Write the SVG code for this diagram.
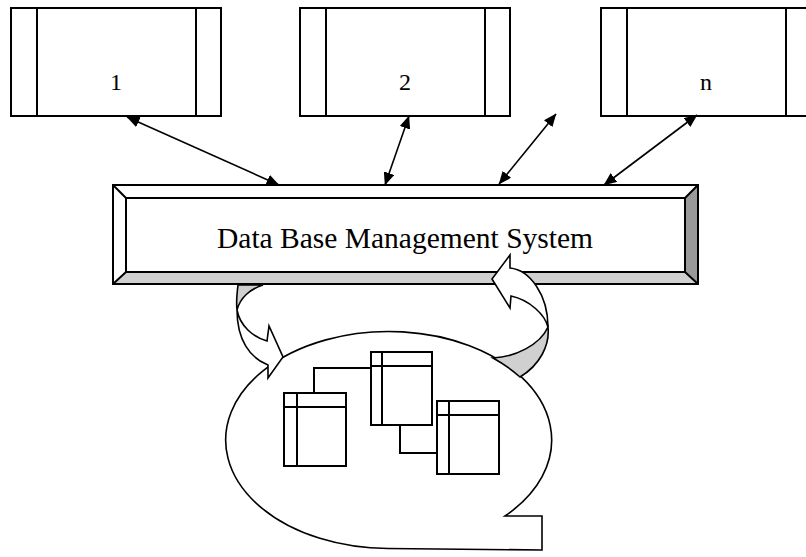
<svg xmlns="http://www.w3.org/2000/svg" width="806" height="557" viewBox="0 0 806 557">
<style>
.box{fill:#fff;stroke:#000;stroke-width:2}
.ln{fill:none;stroke:#000;stroke-width:2}
.lbl{font-family:"Liberation Serif","Times New Roman",serif;fill:#000;text-anchor:middle}
.conn{fill:none;stroke:#000;stroke-width:1.6}
.blk{stroke:#000;stroke-width:1.6;stroke-linejoin:miter}
</style>
<defs>
<marker id="ah" viewBox="0 0 13 11" refX="12.5" refY="5.5" markerWidth="13" markerHeight="11" markerUnits="userSpaceOnUse" orient="auto-start-reverse">
<path d="M0,0 L13,5.5 L0,11 Z" fill="#000"/>
</marker>
</defs>
<rect width="806" height="557" fill="#fff"/>

<g id="user1">
<rect class="box" x="11" y="8" width="210" height="108"/>
<line class="ln" x1="37" y1="8" x2="37" y2="116"/>
<line class="ln" x1="196" y1="8" x2="196" y2="116"/>
<text class="lbl" x="116" y="90" font-size="24">1</text>
</g>
<g id="user2">
<rect class="box" x="300" y="8" width="210" height="108"/>
<line class="ln" x1="326" y1="8" x2="326" y2="116"/>
<line class="ln" x1="485" y1="8" x2="485" y2="116"/>
<text class="lbl" x="405" y="90" font-size="24">2</text>
</g>
<g id="usern">
<rect class="box" x="601" y="8" width="210" height="108"/>
<line class="ln" x1="627" y1="8" x2="627" y2="116"/>
<line class="ln" x1="786" y1="8" x2="786" y2="116"/>
<text class="lbl" x="706" y="90" font-size="24">n</text>
</g>

<g id="dbms">
<polygon points="113,185 698,185 685,198 126,198" fill="#fff"/>
<polygon points="113,185 126,198 126,272 113,284" fill="#fff"/>
<polygon points="113,284 126,272 685,272 698,284" fill="#d0d0d0"/>
<polygon points="698,185 698,284 685,272 685,198" fill="#9a9a9a"/>
<rect x="113" y="185" width="585" height="99" fill="none" stroke="#000" stroke-width="2"/>
<rect x="126" y="198" width="559" height="74" fill="#fff" stroke="#000" stroke-width="2"/>
<path class="ln" d="M113,185 L126,198 M698,185 L685,198 M113,284 L126,272 M698,284 L685,272" stroke-width="1.5"/>
<text class="lbl" x="405" y="248" font-size="29.5">Data Base Management System</text>
</g>

<g id="database">
<path d="M505,516 A163,108.5 0 1 0 388,548.5 L542,550 L542,516 Z" fill="#fff" stroke="#000" stroke-width="1.6" stroke-linejoin="miter"/>
</g>

<g id="tableA">
<rect class="box" x="284" y="393" width="62" height="73"/>
<line class="ln" x1="297" y1="393" x2="297" y2="466"/>
<line class="ln" x1="284" y1="407" x2="346" y2="407"/>
</g>
<g id="tableB">
<rect class="box" x="371" y="352" width="61" height="73"/>
<line class="ln" x1="382" y1="352" x2="382" y2="425"/>
<line class="ln" x1="371" y1="366" x2="432" y2="366"/>
</g>
<g id="tableC">
<rect class="box" x="437" y="401" width="62" height="73"/>
<line class="ln" x1="449" y1="401" x2="449" y2="474"/>
<line class="ln" x1="437" y1="415" x2="499" y2="415"/>
</g>

<g id="connectors">
<line class="conn" x1="127" y1="117" x2="279" y2="185" marker-start="url(#ah)" marker-end="url(#ah)"/>
<line class="conn" x1="409" y1="116" x2="385" y2="185" marker-start="url(#ah)" marker-end="url(#ah)"/>
<line class="conn" x1="556" y1="114" x2="499" y2="184" marker-start="url(#ah)" marker-end="url(#ah)"/>
<line class="conn" x1="697" y1="115" x2="604" y2="185" marker-start="url(#ah)" marker-end="url(#ah)"/>
<polyline class="ln" points="314,393 314,368 371,368"/>
<polyline class="ln" points="400,425 400,453 437,453"/>
</g>

<g id="arrow-store">
<path class="blk" fill="#d0d0d0" d="M238,285 L263,285 C250,289 240,298 237,310 C236,302 237,293 238,285 Z"/>
<path class="blk" fill="#fff" d="M237,310 C240,326 253,337 267,341 L269,326 L283,357 L268,378 L268,365 C250,358 237,340 237,310 Z"/>
</g>

<g id="arrow-load">
<path class="blk" fill="#d0d0d0" d="M548,327 C550,345 540,365 520,377 A163,108.5 0 0 0 493,358 C515,357 540,345 548,327 Z"/>
<path class="blk" fill="#fff" d="M548,327 C548,295 530,270 510,268 L510,255 L492,279 L510,308 L511,296 C530,300 545,315 548,327 Z"/>
</g>
</svg>
